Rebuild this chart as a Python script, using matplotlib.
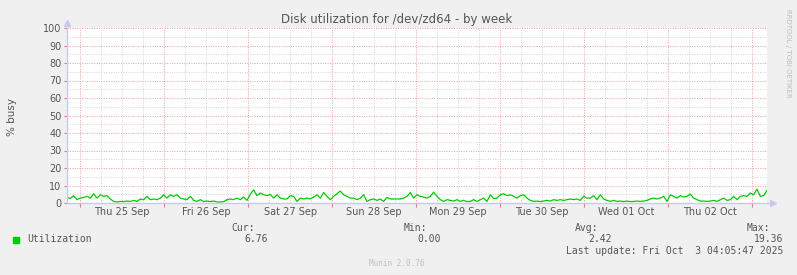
import datetime as dt
import matplotlib
matplotlib.use('Agg')
import matplotlib.pyplot as plt
import matplotlib.dates as mdates
from matplotlib.ticker import MultipleLocator, FuncFormatter

# Data (roughly one sample per hour)
start = dt.datetime(2025, 9, 24, 20, 15)
step_minutes = 57.14
utilization = [
    3.2, 2.6, 4.2, 1.9, 2.8, 3.2, 3.8, 2.8, 5.3, 2.8,
    4.7, 3.8, 4.2, 2.3, 0.9, 0.6, 0.9, 0.8, 1.1, 0.9,
    1.5, 0.9, 2.3, 1.9, 3.8, 1.9, 2.3, 1.9, 2.8, 4.7,
    2.8, 4.7, 3.8, 4.7, 2.8, 2.3, 1.9, 3.8, 1.5, 0.9,
    1.9, 0.8, 1.1, 0.8, 1.1, 0.6, 0.6, 0.8, 1.9, 2.3,
    1.9, 2.8, 1.9, 3.4, 1.5, 5.0, 7.5, 4.2, 5.7, 4.7,
    4.2, 4.9, 2.8, 4.7, 2.8, 2.3, 2.3, 4.2, 3.8, 0.9,
    2.8, 2.3, 2.8, 2.3, 3.4, 4.7, 2.8, 6.0, 3.8, 1.9,
    3.8, 5.3, 6.8, 4.7, 3.8, 2.8, 2.8, 1.9, 2.8, 4.7,
    0.9, 1.9, 2.3, 1.5, 2.3, 0.9, 3.2, 2.3, 2.3, 2.3,
    2.3,
    2.8, 3.8, 6.0, 2.8, 4.7, 3.8, 3.4, 2.8, 3.8, 6.2,
    3.8, 1.9, 0.9, 1.9, 1.5, 1.1, 1.9, 0.9, 1.5, 0.8,
    0.9, 1.9, 0.9, 1.9, 2.8, 0.9, 4.7, 2.5, 2.8, 4.7,
    5.3, 4.2, 4.7, 3.8, 2.8, 4.2, 4.7, 2.8, 1.5, 0.9,
    1.1, 0.8, 1.1, 1.5, 1.1, 1.9, 1.5, 1.9, 1.5, 1.9,
    2.3, 1.9, 2.3, 1.5, 3.8, 2.8, 2.8, 4.2, 1.9, 4.7,
    2.3, 1.5, 0.9, 1.5, 0.9, 1.1, 0.8, 1.1, 0.8, 0.9,
    1.1, 0.9, 1.1, 1.5, 2.3, 2.8, 2.3, 2.8, 3.8, 0.9,
    4.7, 3.8, 2.8, 4.2, 3.4, 3.8, 5.1, 2.8, 1.9, 1.1,
    1.1, 0.9, 1.1, 1.5, 0.9, 1.9, 2.8, 1.5, 1.9, 3.8,
    1.9, 3.8, 4.2, 3.8, 5.7, 4.7, 7.9, 3.8, 4.2, 7.2,
]
times = [start + dt.timedelta(minutes=step_minutes * i) for i in range(len(utilization))]

stat_names = ['Cur:', 'Min:', 'Avg:', 'Max:']
stat_values = ['6.76', '0.00', '2.42', '19.36']
stat_right_px = [255, 427, 598, 770]
value_right_px = [268, 441, 612, 783]

W, H = 797, 275
BG = '#f0f0f0'
TXT = '#555555'
GREEN = '#00cc00'
AXIS = '#c8c8f0'


def fx(x):
    return x / W


def fy(y):
    return 1 - y / H


fig = plt.figure(figsize=(W / 100, H / 100), dpi=100, facecolor=BG)
ax = fig.add_axes([fx(67), fy(203), fx(767) - fx(67), fy(28) - fy(203)])
ax.set_facecolor('white')

ax.plot(times, utilization, color=GREEN, lw=0.9)

ax.set_ylim(0, 100)
ax.set_xlim(times[0], times[-1])
ax.yaxis.set_major_locator(MultipleLocator(10))
ax.yaxis.set_minor_locator(MultipleLocator(5))
ax.xaxis.set_major_locator(mdates.DayLocator())
ax.xaxis.set_minor_locator(mdates.HourLocator(byhour=[0, 6, 12, 18]))
ax.xaxis.set_major_formatter(FuncFormatter(lambda v, p: ''))
ax.xaxis.set_minor_formatter(FuncFormatter(
    lambda v, p: mdates.num2date(v).strftime('%a %d %b') if mdates.num2date(v).hour == 12 else ''))

ax.grid(which='major', color='#e8a0a0', ls=(0, (1, 1.5)), lw=0.7)
ax.grid(which='minor', color='#d2d2d2', ls=(0, (1, 1.5)), lw=0.7)
ax.set_axisbelow(True)

ax.tick_params(axis='both', which='both', labelsize=7, labelcolor=TXT)
ax.tick_params(axis='x', which='major', length=3, color='#e08080', direction='out')
ax.tick_params(axis='x', which='minor', length=0, pad=3)
ax.tick_params(axis='y', which='major', length=2, color='#e08080', pad=2)
ax.tick_params(axis='y', which='minor', length=0)

for s in ['top', 'right']:
    ax.spines[s].set_visible(False)
for s in ['left', 'bottom']:
    ax.spines[s].set_color(AXIS)
    ax.spines[s].set_linewidth(1)

# axis arrows
ax.plot([0], [1.03], marker='^', ms=4, color=AXIS, transform=ax.transAxes, clip_on=False)
ax.plot([1.008], [0], marker='>', ms=4, color=AXIS, transform=ax.transAxes, clip_on=False)
ax.plot([1.0, 1.008], [0, 0], color=AXIS, lw=1, transform=ax.transAxes, clip_on=False)

fig.text(fx(397), fy(19), 'Disk utilization for /dev/zd64 - by week', ha='center', va='center',
         fontsize=8.5, color=TXT)
fig.text(fx(12), fy(117), '% busy', rotation=90, ha='center', va='center', fontsize=7.5, color=TXT)
fig.text(fx(788), fy(53), 'RRDTOOL / TOBI OETIKER', rotation=270, ha='center', va='center',
         fontsize=5, color='#bdbdbd')

# legend block
fig.patches.append(plt.Rectangle((fx(13), fy(243)), fx(6), fy(237) - fy(243), color=GREEN,
                                 transform=fig.transFigure, figure=fig))
mono = 'DejaVu Sans Mono'
fig.text(fx(27), fy(239.5), 'Utilization', ha='left', va='center', fontsize=7, family=mono, color=TXT)
for name, val, xr, xv in zip(stat_names, stat_values, stat_right_px, value_right_px):
    fig.text(fx(xr), fy(228), name, ha='right', va='center', fontsize=7, family=mono, color=TXT)
    fig.text(fx(xv), fy(239.5), val, ha='right', va='center', fontsize=7, family=mono, color=TXT)
fig.text(fx(783), fy(251), 'Last update: Fri Oct  3 04:05:47 2025', ha='right', va='center',
         fontsize=7, family=mono, color=TXT)
fig.text(fx(397), fy(264), 'Munin 2.0.76', ha='center', va='center', fontsize=5.5, family=mono,
         color='#c0c0c0')

fig.savefig('out.png', dpi=100, facecolor=BG)
